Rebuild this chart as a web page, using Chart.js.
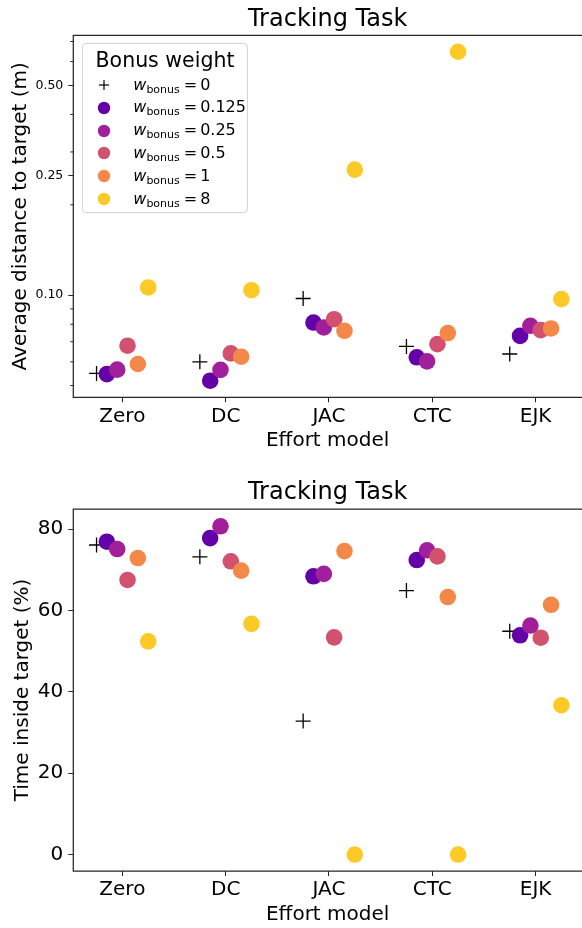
<!DOCTYPE html>
<html>
<head>
<meta charset="utf-8">
<script src="https://cdn.jsdelivr.net/npm/chart.js@4"></script>
<style>
  html, body { margin:0; padding:0; overflow:hidden; background:#fff; width:582px; height:928px; }
  #wrap { position:relative; width:582px; height:928px; overflow:hidden; }
  canvas { position:absolute; left:0; }
  #c1 { top:0; }
  #c2 { top:464px; }
  #legend { position:absolute; left:81.7px; top:43.3px; width:166.6px; height:170px; box-sizing:border-box;
            border:1px solid #d4d4d4; border-radius:4px; background:rgba(255,255,255,0.85);
            font-family:"DejaVu Sans", sans-serif; color:#000; z-index:5; }
  #legend .ttl { position:absolute; left:0; right:0; top:3.7px; height:24px; line-height:24px; text-align:center; font-size:20.5px; }
  #legend .row { position:absolute; left:0; right:0; height:22.8px; }
  #legend .row svg { position:absolute; left:11.6px; top:1.4px; }
  #legend .row .lbl { position:absolute; left:50.6px; top:0; line-height:22.8px; font-size:16px; white-space:nowrap; }
  #legend .row .lbl i { font-style:oblique; }
  #legend .row .lbl sub { font-size:11px; vertical-align:-3px; line-height:0; }
  #legend .row .lbl .eq { margin:0 3px 0 4px; }
</style>
</head>
<body>
<div id="wrap">
  <canvas id="c1" width="582" height="464" style="width:582px;height:464px"></canvas>
  <canvas id="c2" width="582" height="464" style="width:582px;height:464px"></canvas>
  <div id="legend"></div>
</div>
<script>
// ---------------- data ----------------
const categories = ['Zero', 'DC', 'JAC', 'CTC', 'EJK'];
const weights = ['0', '0.125', '0.25', '0.5', '1', '8'];
const colors = ['#000000', '#6400a7', '#a21f9b', '#d2516e', '#f48849', '#fdc926'];

// Average distance to target (m)
const dist_w0     = [0.0549, 0.0600, 0.0975, 0.0675, 0.0637];
const dist_w0125  = [0.0546, 0.0519, 0.0811, 0.0621, 0.0732];
const dist_w025   = [0.0565, 0.0564, 0.0781, 0.0602, 0.0791];
const dist_w05    = [0.0679, 0.0640, 0.0832, 0.0687, 0.0765];
const dist_w1     = [0.0590, 0.0624, 0.0761, 0.0748, 0.0775];
const dist_w8     = [0.1061, 0.1039, 0.262, 0.647, 0.0970];

// Time inside target (%)
const time_w0     = [76.1, 73.2, 32.8, 64.9, 54.9];
const time_w0125  = [76.9, 77.8, 68.4, 72.4, 53.9];
const time_w025   = [75.1, 80.7, 69.0, 74.8, 56.3];
const time_w05    = [67.5, 72.1, 53.4, 73.3, 53.3];
const time_w1     = [72.9, 69.8, 74.6, 63.3, 61.4];
const time_w8     = [52.4, 56.7, 0.0, 0.0, 36.7];

// tick labels
const distTicks = [0.10, 0.25, 0.50];
const distTickLabels = ['0.10', '0.25', '0.50'];
const distMinorTicks = [0.05, 0.06, 0.07, 0.08, 0.09, 0.2, 0.3, 0.4, 0.6, 0.7];
const timeTicks = [0, 20, 40, 60, 80];
const timeTickLabels = ['0', '20', '40', '60', '80'];

const distSeries = [dist_w0, dist_w0125, dist_w025, dist_w05, dist_w1, dist_w8];
const timeSeries = [time_w0, time_w0125, time_w025, time_w05, time_w1, time_w8];

// ---------------- helpers ----------------
const FONT = '"DejaVu Sans", sans-serif';
const INK = '#262626';
const dodge = 0.1;

function makeDatasets(series) {
  return series.map((vals, i) => ({
    label: 'w_bonus = ' + weights[i],
    data: vals.map((v, c) => ({ x: c + (i - 2.5) * dodge, y: v })),
    pointStyle: i === 0 ? 'cross' : 'circle',
    pointRadius: i === 0 ? 7.5 : 8.3,
    pointHoverRadius: i === 0 ? 7.5 : 8.3,
    backgroundColor: colors[i],
    borderColor: colors[i],
    pointBorderWidth: i === 0 ? 1.3 : 0,
    borderWidth: i === 0 ? 1.3 : 0,
    showLine: false,
    order: 10 - i
  }));
}

// axes frame: left, top and bottom spines (the right spine lies just outside the window)
const framePlugin = {
  id: 'frame',
  afterDatasetsDraw(chart, args, opts) {
    const { ctx, chartArea: a } = chart;
    ctx.save();
    ctx.strokeStyle = INK;
    ctx.lineWidth = 1.25;
    ctx.beginPath();
    ctx.moveTo(chart.width + 2, a.top);
    ctx.lineTo(a.left, a.top);
    ctx.lineTo(a.left, a.bottom);
    ctx.lineTo(chart.width + 2, a.bottom);
    ctx.stroke();
    if (opts && opts.minor) {
      const ys = chart.scales.y;
      ctx.lineWidth = 1;
      opts.minor.forEach(v => {
        const p = ys.getPixelForValue(v);
        ctx.beginPath();
        ctx.moveTo(a.left - 3, p);
        ctx.lineTo(a.left, p);
        ctx.stroke();
      });
    }
    ctx.restore();
  }
};

function xScale(axisHeight, titlePadBottom) {
  return {
    type: 'linear',
    min: -0.475,
    max: 4.4495,
    afterBuildTicks: s => { s.ticks = categories.map((c, i) => ({ value: i })); },
    afterFit: s => { s.height = axisHeight; },
    ticks: {
      callback: v => categories[v],
      font: { family: FONT, size: 20 },
      color: '#000',
      padding: 2,
      maxRotation: 0,
      autoSkip: false
    },
    grid: { display: true, drawOnChartArea: false, drawTicks: true, tickLength: 5, color: INK, lineWidth: 1 },
    border: { display: false },
    title: { display: true, text: 'Effort model', font: { family: FONT, size: 20 }, color: '#000',
             padding: { top: 0, bottom: titlePadBottom } }
  };
}

function makeChart(id, series, yCfg, titlePad, xAxisHeight, xTitlePadBottom, minor) {
  return new Chart(document.getElementById(id), {
    type: 'scatter',
    data: { datasets: makeDatasets(series) },
    plugins: [framePlugin],
    options: {
      responsive: false,
      animation: false,
      events: [],
      layout: { padding: 0, autoPadding: false },
      plugins: {
        legend: { display: false },
        tooltip: { enabled: false },
        title: { display: true, text: 'Tracking Task', fullSize: false,
                 font: { family: FONT, size: 24, weight: 'normal' }, color: '#000',
                 padding: titlePad },
        frame: { minor: minor }
      },
      scales: { x: xScale(xAxisHeight, xTitlePadBottom), y: yCfg }
    }
  });
}

// ---------------- top chart ----------------
makeChart('c1', distSeries, {
  type: 'logarithmic',
  min: 0.0457,
  max: 0.734,
  afterBuildTicks: s => { s.ticks = distTicks.map(v => ({ value: v })); },
  afterFit: s => { s.width = 73.3; },
  ticks: {
    callback: (v) => { const k = distTicks.findIndex(t => Math.abs(t - v) < 1e-9); return k >= 0 ? distTickLabels[k] : ''; },
    font: { family: FONT, size: 12.5 },
    color: '#000',
    padding: 5,
    autoSkip: false
  },
  grid: { display: true, drawOnChartArea: false, drawTicks: true, tickLength: 5, color: INK, lineWidth: 1 },
  border: { display: false },
  title: { display: true, text: 'Average distance to target (m)', font: { family: FONT, size: 20 }, color: '#000',
           padding: { top: 8.7, bottom: 0 } }
}, { top: 4.9, bottom: 1.6 }, 66.7, 10.9, distMinorTicks);

// ---------------- bottom chart ----------------
makeChart('c2', timeSeries, {
  type: 'linear',
  min: -4.05,
  max: 84.95,
  afterBuildTicks: s => { s.ticks = timeTicks.map(v => ({ value: v })); },
  afterFit: s => { s.width = 73.3; },
  ticks: {
    callback: (v) => { const k = timeTicks.indexOf(v); return k >= 0 ? timeTickLabels[k] : ''; },
    font: { family: FONT, size: 20 },
    color: '#000',
    padding: 5,
    autoSkip: false
  },
  grid: { display: true, drawOnChartArea: false, drawTicks: true, tickLength: 5, color: INK, lineWidth: 1 },
  border: { display: false },
  title: { display: true, text: 'Time inside target (%)', font: { family: FONT, size: 20 }, color: '#000',
           padding: { top: 10.3, bottom: 0 } }
}, { top: 14.1, bottom: 2.1 }, 57, 1.6, null);

// ---------------- legend (HTML, built from the series arrays) ----------------
(function buildLegend() {
  const el = document.getElementById('legend');
  const t = document.createElement('div');
  t.className = 'ttl';
  t.textContent = 'Bonus weight';
  el.appendChild(t);
  weights.forEach((w, i) => {
    const row = document.createElement('div');
    row.className = 'row';
    row.style.top = (41.7 - 1 + i * 22.8 - 11.4) + 'px';
    const marker = i === 0
      ? '<svg width="20" height="20"><line x1="5" y1="10" x2="15" y2="10" stroke="#000" stroke-width="1.2"/><line x1="10" y1="5" x2="10" y2="15" stroke="#000" stroke-width="1.2"/></svg>'
      : '<svg width="20" height="20"><circle cx="10" cy="10" r="6.2" fill="' + colors[i] + '"/></svg>';
    row.innerHTML = marker + '<span class="lbl"><i>w</i><sub>bonus</sub><span class="eq">=</span>' + w + '</span>';
    el.appendChild(row);
  });
})();
</script>
</body>
</html>
